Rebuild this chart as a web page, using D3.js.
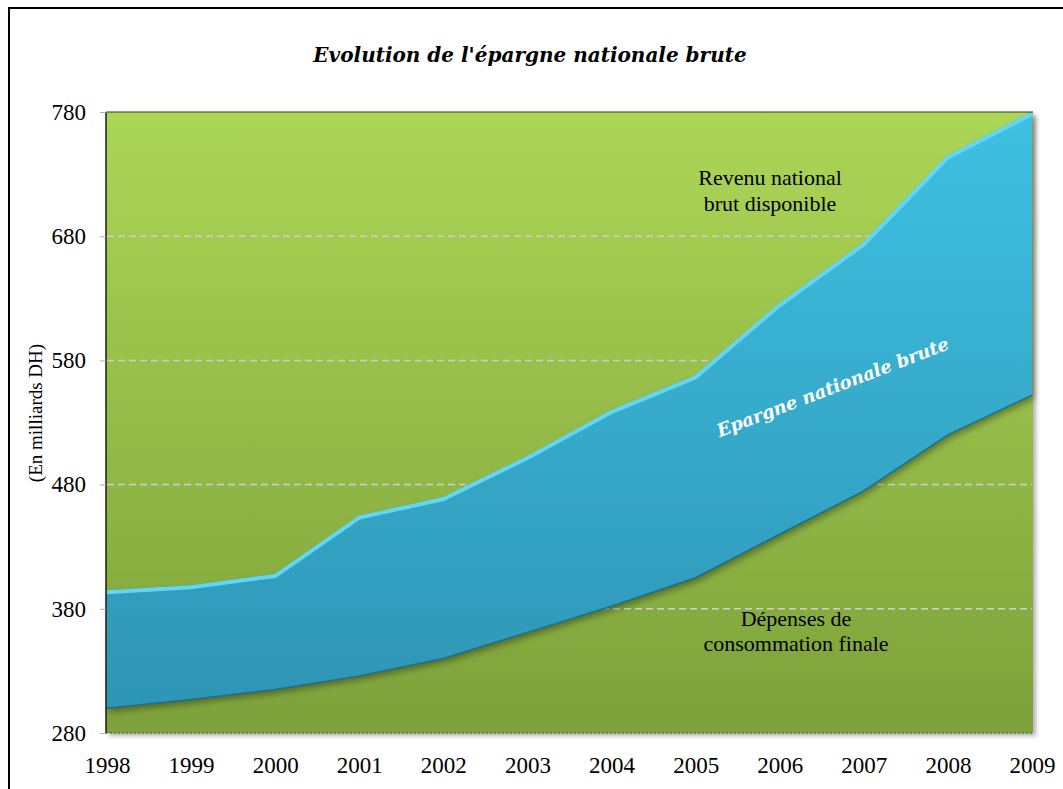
<!DOCTYPE html>
<html>
<head>
<meta charset="utf-8">
<script src="https://cdn.jsdelivr.net/npm/d3@7"></script>
<style>
  body { margin: 0; background: #fff; }
  svg { display: block; }
</style>
</head>
<body>
<svg width="1063" height="789"></svg>
<script>
// données (milliards DH)
var years = [1998, 1999, 2000, 2001, 2002, 2003, 2004, 2005, 2006, 2007, 2008, 2009];
var revenu = [395, 399, 408, 455, 470, 503, 540, 568, 626, 675, 745, 780];
var depenses = [300, 307, 315, 326, 340, 361, 382, 405, 440, 475, 520, 552];
var yTicks = [280, 380, 480, 580, 680, 780];

var svg = d3.select("svg"),
    pLeft = 107, pRight = 1032, pTop = 112, pBottom = 733;

var x = d3.scaleLinear().domain([1998, 2009]).range([pLeft, pRight]);
var y = d3.scaleLinear().domain([280, 780]).range([pBottom, pTop]);

var defs = svg.append("defs");

var gGreen = defs.append("linearGradient").attr("id", "green")
    .attr("x1", 0).attr("y1", 0).attr("x2", 0).attr("y2", 1);
gGreen.append("stop").attr("offset", "0%").attr("stop-color", "#acd656");
gGreen.append("stop").attr("offset", "100%").attr("stop-color", "#7da13a");

var gBlue = defs.append("linearGradient").attr("id", "blue")
    .attr("gradientUnits", "userSpaceOnUse")
    .attr("x1", 0).attr("y1", pTop).attr("x2", 0).attr("y2", pBottom);
gBlue.append("stop").attr("offset", "0%").attr("stop-color", "#3ec1e2");
gBlue.append("stop").attr("offset", "100%").attr("stop-color", "#2e93b4");

var shadow = defs.append("filter").attr("id", "shadow")
    .attr("x", "-5%").attr("y", "-5%").attr("width", "115%").attr("height", "120%");
shadow.append("feDropShadow").attr("dx", 2).attr("dy", 4).attr("stdDeviation", 3)
    .attr("flood-color", "#000").attr("flood-opacity", 0.35);

var boxShadow = defs.append("filter").attr("id", "boxshadow")
    .attr("x", "-5%").attr("y", "-5%").attr("width", "115%").attr("height", "115%");
boxShadow.append("feDropShadow").attr("dx", 3).attr("dy", 3).attr("stdDeviation", 2)
    .attr("flood-color", "#000").attr("flood-opacity", 0.3);

// cadre extérieur
svg.append("rect")
    .attr("x", 9).attr("y", 8).attr("width", 1070).attr("height", 800)
    .attr("fill", "none").attr("stroke", "#000").attr("stroke-width", 2);

// titre
svg.append("text")
    .attr("x", 530).attr("y", 62)
    .attr("text-anchor", "middle")
    .style("font", "italic bold 20px 'DejaVu Serif', serif")
    .text("Evolution de l'épargne nationale brute");

// fond de la zone de tracé
svg.append("rect")
    .attr("x", pLeft - 1).attr("y", pTop).attr("width", pRight - pLeft + 2).attr("height", pBottom - pTop)
    .attr("fill", "url(#green)")
    .attr("filter", "url(#boxshadow)");

// lignes de quadrillage
svg.append("g").selectAll("line")
    .data(yTicks.slice(1, -1))
    .enter().append("line")
        .attr("x1", pLeft).attr("x2", pRight)
        .attr("y1", function(d) { return y(d); })
        .attr("y2", function(d) { return y(d); })
        .attr("stroke", "#cfcfcf")
        .attr("stroke-width", 1.5)
        .attr("stroke-dasharray", "7,4");

var data = years.map(function(d, i) { return {year: d, hi: revenu[i], low: depenses[i]}; });

var area = d3.area()
    .x(function(d) { return x(d.year); })
    .y0(function(d) { return y(d.low); })
    .y1(function(d) { return y(d.hi); });

svg.append("path")
    .datum(data)
    .attr("d", area)
    .attr("fill", "url(#blue)")
    .attr("filter", "url(#shadow)");

// reflet en haut, bord sombre en bas
svg.append("path")
    .datum(data)
    .attr("d", d3.line().x(function(d) { return x(d.year); }).y(function(d) { return y(d.hi) + 2; }))
    .attr("fill", "none").attr("stroke", "#62d6f4").attr("stroke-width", 4);

svg.append("path")
    .datum(data)
    .attr("d", d3.line().x(function(d) { return x(d.year); }).y(function(d) { return y(d.low); }))
    .attr("fill", "none").attr("stroke", "#1f6e8a").attr("stroke-width", 1.5);

// bordure de la zone
svg.append("line")
    .attr("x1", pLeft - 1).attr("x2", pLeft - 1).attr("y1", pTop).attr("y2", pBottom)
    .attr("stroke", "#1a1a1a").attr("stroke-width", 1.5);
svg.append("line")
    .attr("x1", pLeft - 1).attr("x2", pRight + 1).attr("y1", pTop).attr("y2", pTop)
    .attr("stroke", "#3a3a1a").attr("stroke-width", 1);
svg.append("line")
    .attr("x1", pLeft - 1).attr("x2", pRight + 1).attr("y1", pBottom).attr("y2", pBottom)
    .attr("stroke", "#4a5a2a").attr("stroke-width", 1.2).attr("stroke-dasharray", "2,2");

// axe Y
var yAxis = svg.append("g")
    .attr("transform", "translate(" + (pLeft - 1) + ",0)")
    .call(d3.axisLeft(y).tickValues(yTicks).tickSize(6).tickPadding(14).tickFormat(d3.format("d")));
yAxis.select(".domain").remove();
yAxis.selectAll(".tick line").attr("stroke", "#b0b0b0");
yAxis.selectAll("text")
    .style("font", "23px 'Liberation Serif', serif").attr("fill", "#000");

// axe X
var xAxis = svg.append("g")
    .attr("transform", "translate(0," + pBottom + ")")
    .call(d3.axisBottom(x).tickValues(years).tickSize(0).tickPadding(24).tickFormat(d3.format("d")));
xAxis.select(".domain").remove();
xAxis.selectAll("text")
    .style("font", "23px 'Liberation Serif', serif").attr("fill", "#000");

// titre de l'axe Y
svg.append("text")
    .attr("transform", "translate(42,413) rotate(-90)")
    .attr("text-anchor", "middle")
    .style("font", "19px 'Liberation Serif', serif")
    .text("(En milliards DH)");

// étiquettes des zones
var lab1 = svg.append("text")
    .attr("text-anchor", "middle")
    .style("font", "22px 'Liberation Serif', serif");
lab1.append("tspan").attr("x", 770).attr("y", 185).text("Revenu national");
lab1.append("tspan").attr("x", 770).attr("y", 211).text("brut disponible");

var lab2 = svg.append("text")
    .attr("text-anchor", "middle")
    .style("font", "22px 'Liberation Serif', serif");
lab2.append("tspan").attr("x", 796).attr("y", 626).text("Dépenses de");
lab2.append("tspan").attr("x", 796).attr("y", 651).text("consommation finale");

svg.append("text")
    .attr("transform", "translate(835,393) rotate(-21)")
    .attr("text-anchor", "middle")
    .attr("fill", "#fff")
    .style("font", "italic bold 18px 'DejaVu Serif', serif")
    .text("Epargne nationale brute");
</script>
</body>
</html>
